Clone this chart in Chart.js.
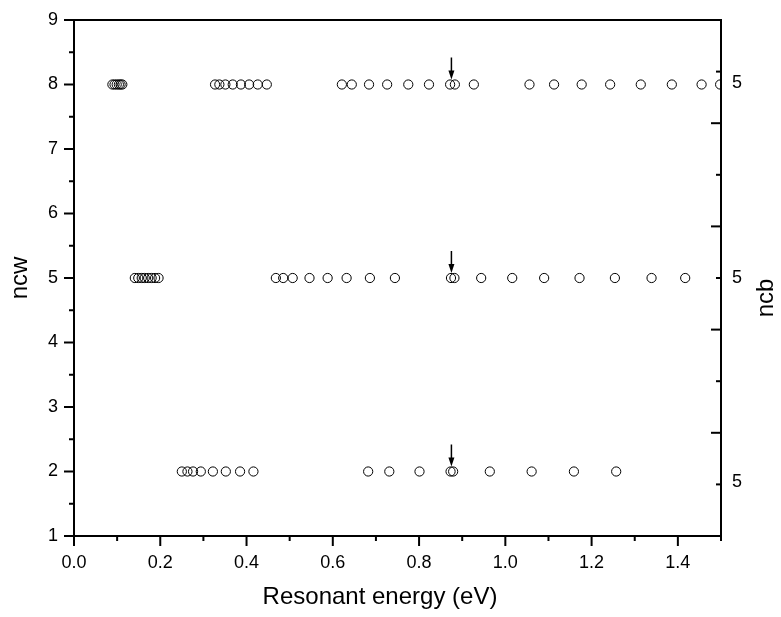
<!DOCTYPE html>
<html>
<head>
<meta charset="utf-8">
<title>Resonant energy</title>
<script src="https://cdn.jsdelivr.net/npm/chart.js@4.4.1/dist/chart.umd.min.js"></script>
<style>
  html, body { margin: 0; padding: 0; background: #fff; }
  #wrap { width: 781px; height: 617px; }
</style>
</head>
<body>
<div id="wrap"><canvas id="chart" width="781" height="617"></canvas></div>
<script>
// --- DATA ---
const ncwLevels = [8, 5, 2];

const energiesNcw8 = [
  0.089, 0.094, 0.099, 0.104, 0.108, 0.112,
  0.327, 0.337, 0.351, 0.368, 0.387, 0.406, 0.426, 0.447,
  0.621, 0.644, 0.684, 0.726, 0.775, 0.823, 0.872, 0.883, 0.927,
  1.056, 1.113, 1.177, 1.243, 1.314, 1.386, 1.455, 1.498
];
const energiesNcw5 = [
  0.141, 0.149, 0.157, 0.164, 0.172, 0.180, 0.188, 0.196,
  0.468, 0.485, 0.507, 0.546, 0.588, 0.632, 0.686, 0.744,
  0.874, 0.882, 0.944, 1.016, 1.090, 1.172, 1.254, 1.339, 1.417
];
const energiesNcw2 = [
  0.250, 0.263, 0.276, 0.294, 0.322, 0.352, 0.385, 0.416,
  0.682, 0.731, 0.801, 0.873, 0.879, 0.964, 1.061, 1.159, 1.257
];

// energy marked with an arrow on each row
const markedEnergy = 0.875;

const energyTickLabels = ['0.0', '0.2', '0.4', '0.6', '0.8', '1.0', '1.2', '1.4'];
const ncwTickLabels = ['1', '2', '3', '4', '5', '6', '7', '8', '9'];
const ncbTickValues = [8.77, 5.0, 1.04];
const ncbTickLabels = ['5', '5', '5'];

const FONT = "'Liberation Sans', Arial, sans-serif";

// one scatter dataset per ncw row
const rows = [energiesNcw8, energiesNcw5, energiesNcw2];
const datasets = rows.map((energies, i) => ({
  data: energies.map(e => ({ x: e, y: ncwLevels[i] })),
  pointStyle: 'circle',
  pointRadius: 4.6,
  pointBorderWidth: 1,
  pointBorderColor: '#000',
  pointBackgroundColor: 'rgba(0,0,0,0)',
  showLine: false,
  clip: 0
}));

// frame, inward/outward tick marks, arrows and the axis titles below / right
const axisDecor = {
  id: 'axisDecor',
  afterDraw(chart) {
    const { ctx, chartArea: a, scales } = chart;
    const { x, y, y2 } = scales;

    const line = (x1, y1, x2, y2_) => {
      ctx.beginPath();
      ctx.moveTo(x1, y1);
      ctx.lineTo(x2, y2_);
      ctx.stroke();
    };

    ctx.save();
    ctx.strokeStyle = '#000';
    ctx.fillStyle = '#000';
    ctx.lineWidth = 2;
    ctx.strokeRect(a.left, a.top, a.right - a.left, a.bottom - a.top);

    // bottom axis: majors every 0.2, minors between
    x.ticks.forEach(t => {
      const px = x.getPixelForValue(t.value);
      const major = Math.round(t.value * 10) % 2 === 0;
      line(px, a.bottom, px, a.bottom + (major ? 10 : 5));
    });

    // left axis: majors on integers
    y.ticks.forEach(t => {
      const py = y.getPixelForValue(t.value);
      const major = Number.isInteger(t.value);
      line(a.left, py, a.left - (major ? 10 : 5), py);
    });

    // right axis: ticks point into the plot
    for (let v = y2.min; v <= y2.max; v++) {
      const py = y2.getPixelForValue(v);
      line(a.right, py, a.right - (v % 2 === 0 ? 10 : 5), py);
    }

    // arrows above the marked energy
    ctx.lineWidth = 1.5;
    ncwLevels.forEach(level => {
      const px = x.getPixelForValue(markedEnergy);
      const tip = y.getPixelForValue(level) - 5;
      line(px, tip - 22, px, tip - 6);
      ctx.beginPath();
      ctx.moveTo(px - 3, tip - 9);
      ctx.lineTo(px + 3, tip - 9);
      ctx.lineTo(px, tip);
      ctx.closePath();
      ctx.fill();
    });

    ctx.font = '24px ' + FONT;
    ctx.textAlign = 'center';
    ctx.textBaseline = 'middle';
    ctx.fillText('Resonant energy (eV)', 380, 597);

    // right axis title, reading upward like the left one
    ctx.translate(766, 298);
    ctx.rotate(-Math.PI / 2);
    ctx.fillText('ncb', 0, 0);
    ctx.restore();
  }
};

new Chart(document.getElementById('chart'), {
  type: 'scatter',
  data: { datasets },
  options: {
    responsive: false,
    animation: false,
    layout: { padding: { top: 20, left: 0, right: 0, bottom: 0 } },
    plugins: { legend: { display: false }, tooltip: { enabled: false } },
    scales: {
      x: {
        type: 'linear',
        min: 0,
        max: 1.5,
        afterBuildTicks: scale => {
          const ticks = [];
          for (let i = 0; i <= 15; i++) ticks.push({ value: i / 10 });
          scale.ticks = ticks;
        },
        afterFit: scale => {
          scale.height = 81;
          scale.paddingLeft = 0;
          scale.paddingRight = 0;
        },
        grid: { display: false, drawTicks: false },
        border: { display: false },
        ticks: {
          autoSkip: false,
          maxRotation: 0,
          padding: 16,
          color: '#000',
          font: { family: FONT, size: 18 },
          callback: v => {
            const k = Math.round(v * 10);
            return k % 2 === 0 ? (energyTickLabels[k / 2] || '') : '';
          }
        }
      },
      y: {
        type: 'linear',
        position: 'left',
        min: 1,
        max: 9,
        afterBuildTicks: scale => {
          const ticks = [];
          for (let v = 1; v <= 9; v += 0.5) ticks.push({ value: v });
          scale.ticks = ticks;
        },
        afterFit: scale => {
          scale.width = 74;
          scale.paddingTop = 0;
          scale.paddingBottom = 0;
        },
        grid: { display: false, drawTicks: false },
        border: { display: false },
        ticks: {
          autoSkip: false,
          padding: 16,
          color: '#000',
          font: { family: FONT, size: 18 },
          callback: v => Number.isInteger(v) ? ncwTickLabels[v - 1] : ''
        },
        title: {
          display: true,
          text: 'ncw',
          color: '#000',
          font: { family: FONT, size: 24 },
          padding: { top: 6, bottom: 0 }
        }
      },
      y2: {
        type: 'linear',
        position: 'right',
        min: 0,
        max: 10,
        afterBuildTicks: scale => {
          scale.ticks = ncbTickValues.map(v => ({ value: v }));
        },
        afterFit: scale => {
          scale.width = 60;
          scale.paddingTop = 0;
          scale.paddingBottom = 0;
        },
        grid: { display: false, drawTicks: false },
        border: { display: false },
        ticks: {
          autoSkip: false,
          padding: 11,
          color: '#000',
          font: { family: FONT, size: 18 },
          callback: (v, i) => ncbTickLabels[i]
        }
      }
    }
  },
  plugins: [axisDecor]
});
</script>
</body>
</html>
